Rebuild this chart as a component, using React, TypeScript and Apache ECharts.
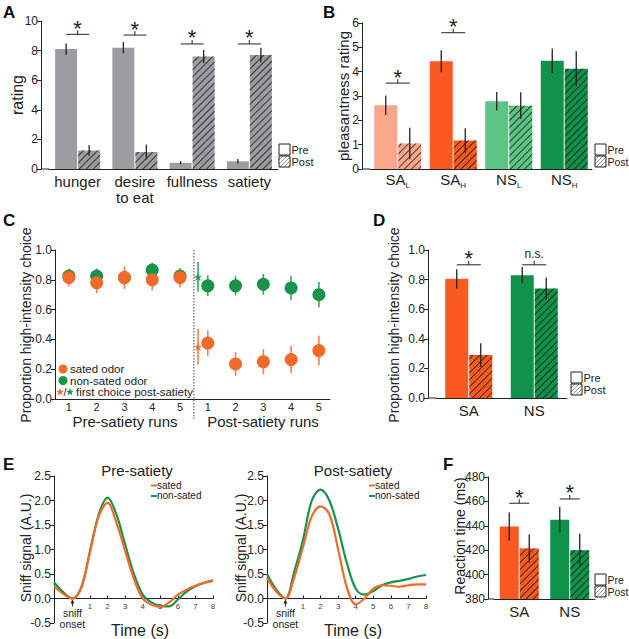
import React, { useEffect, useRef } from 'react';
import * as echarts from 'echarts';

const FONT = '"Liberation Sans", Arial, Helvetica, sans-serif';
const AXIS = '#222';
const ORANGE = '#F26A2A';
const GREEN = '#17934A';
const HATCH = 'rgba(25,25,25,0.8)';

// ---------- Panel A ----------
const aCategories = ['hunger', 'desire\nto eat', 'fullness', 'satiety'];
const aPre = [8.1, 8.2, 0.42, 0.52];
const aPreErr = [0.38, 0.38, 0.1, 0.15];
const aPost = [1.25, 1.15, 7.6, 7.7];
const aPostErr = [0.35, 0.5, 0.45, 0.5];
const aSigCats = [0, 1, 2, 3];
const aSigY = [9.1, 9.05, 8.45, 8.45];
const aSigText = ['*', '*', '*', '*'];
const aColors = ['#9C9DA0', '#9C9DA0', '#9C9DA0', '#9C9DA0'];

// ---------- Panel B ----------
const bCategories = ['SA|L', 'SA|H', 'NS|L', 'NS|H'];
const bPre = [2.62, 4.43, 2.78, 4.45];
const bPreErr = [0.4, 0.45, 0.38, 0.5];
const bPost = [1.05, 1.17, 2.6, 4.12];
const bPostErr = [0.65, 0.5, 0.55, 0.72];
const bSigCats = [0, 1];
const bSigY = [3.53, 5.6];
const bSigText = ['*', '*'];
const bColors = ['#F9A78A', '#FA5A1F', '#5DC583', '#11924A'];

// ---------- Panel C ----------
const cRunX = [1, 2, 3, 4, 5, 6, 7, 8, 9, 10];
const cRunLabels = ['1', '2', '3', '4', '5', '1', '2', '3', '4', '5'];
const cSated = [0.815, 0.78, 0.815, 0.8, 0.815, 0.375, 0.235, 0.25, 0.265, 0.325];
const cSatedErr = [0.06, 0.07, 0.075, 0.07, 0.065, 0.085, 0.08, 0.085, 0.09, 0.1];
const cNonSated = [0.825, 0.825, 0.815, 0.865, 0.825, 0.76, 0.76, 0.77, 0.745, 0.7];
const cNonSatedErr = [0.05, 0.05, 0.05, 0.05, 0.05, 0.07, 0.065, 0.07, 0.08, 0.085];
const cFirstX = 5.65;
const cFirstSated = 0.35;
const cFirstSatedErr = 0.12;
const cFirstNonSated = 0.82;
const cFirstNonSatedErr = 0.1;
const cDivider = 5.5;

// ---------- Panel D ----------
const dCategories = ['SA', 'NS'];
const dPre = [0.805, 0.83];
const dPreErr = [0.065, 0.055];
const dPost = [0.29, 0.74];
const dPostErr = [0.08, 0.075];
const dSigCats = [0, 1];
const dSigY = [0.9, 0.9];
const dSigText = ['*', 'n.s.'];
const dColors = ['#FA5A1F', '#11924A'];

// ---------- Panel E ----------
const eTime = [-1.05, -0.5, 0, 0.5, 1, 1.5, 2, 2.5, 3, 3.5, 4, 4.5, 5, 5.5, 6, 6.5, 7, 7.5, 8];
const ePreSated = [0.25, 0.09, 0, 0.22, 0.95, 1.68, 1.95, 1.55, 0.97, 0.4, 0.0, -0.13, -0.17, -0.08, 0.08, 0.18, 0.26, 0.32, 0.36];
const ePreNonSated = [0.33, 0.12, 0, 0.22, 0.97, 1.72, 2.06, 1.72, 1.1, 0.5, 0.08, -0.08, -0.15, -0.16, -0.02, 0.14, 0.25, 0.32, 0.37];
const ePostSated = [0.42, 0.13, 0, 0.43, 1.05, 1.68, 1.88, 1.72, 1.0, 0.22, -0.12, 0.0, 0.2, 0.27, 0.26, 0.24, 0.27, 0.29, 0.29];
const ePostNonSated = [0.5, 0.17, 0, 0.55, 1.2, 2.0, 2.22, 2.0, 1.42, 0.72, 0.2, 0.08, 0.15, 0.27, 0.33, 0.36, 0.4, 0.45, 0.48];
const eTicks = [1, 2, 3, 4, 5, 6, 7, 8];

// ---------- Panel F ----------
const fCategories = ['SA', 'NS'];
const fPre = [439.5, 445];
const fPreErr = [11.5, 10.5];
const fPost = [421.5, 420];
const fPostErr = [11.5, 13.5];
const fSigCats = [0, 1];
const fSigY = [458.5, 462];
const fSigText = ['*', '*'];
const fColors = ['#FA5A1F', '#11924A'];

const hatch = {
  symbol: 'rect',
  symbolSize: 1,
  dashArrayX: [1, 0],
  dashArrayY: [1, 4],
  rotation: -Math.PI / 4,
  color: HATCH,
};

function yAxisBase(idx: number, min: number, max: number, interval: number, decimals: number, offset: number) {
  return {
    type: 'value',
    gridIndex: idx,
    min,
    max,
    interval,
    offset,
    axisLine: { show: true, onZero: false, lineStyle: { color: AXIS, width: 1 } },
    axisTick: { show: true, length: 4, lineStyle: { color: AXIS } },
    axisLabel: {
      color: AXIS,
      fontSize: 12,
      fontFamily: FONT,
      margin: 3,
      formatter: (v: number) => v.toFixed(decimals),
    },
    splitLine: { show: false },
  };
}

function barPanel(
  idx: number,
  cats: string[],
  pre: number[],
  preErr: number[],
  post: number[],
  postErr: number[],
  colors: string[],
  bw: number,
  sigCats: number[],
  sigY: number[],
  sigText: string[],
  yMin: number,
  yMax: number,
  yInt: number,
  yDec: number,
  yOffset: number,
  axisLabel: any
) {
  const half = (bw + 1) / 2;
  const xAxis = {
    type: 'category',
    gridIndex: idx,
    data: cats,
    axisLine: { show: true, lineStyle: { color: AXIS, width: 1 } },
    axisTick: { show: false },
    axisLabel,
    splitLine: { show: false },
  };
  const yAxis = yAxisBase(idx, yMin, yMax, yInt, yDec, yOffset);
  const errSeries = (means: number[], errs: number[], off: number) => ({
    type: 'custom',
    xAxisIndex: idx,
    yAxisIndex: idx,
    z: 5,
    silent: true,
    data: means.map((m, i) => [i, m, errs[i]]),
    renderItem: (params: any, api: any) => {
      const c = api.value(0);
      const m = api.value(1);
      const e = api.value(2);
      const p1 = api.coord([c, m - e]);
      const p2 = api.coord([c, m + e]);
      return {
        type: 'line',
        shape: { x1: p1[0] + off, y1: p1[1], x2: p2[0] + off, y2: p2[1] },
        style: { stroke: AXIS, lineWidth: 1.3 },
      };
    },
  });
  const series: any[] = [
    {
      type: 'bar',
      xAxisIndex: idx,
      yAxisIndex: idx,
      barWidth: bw,
      barGap: (100 / bw).toFixed(1) + '%',
      silent: true,
      data: pre.map((v, i) => ({ value: v, itemStyle: { color: colors[i] } })),
    },
    {
      type: 'bar',
      xAxisIndex: idx,
      yAxisIndex: idx,
      barWidth: bw,
      barGap: (100 / bw).toFixed(1) + '%',
      silent: true,
      data: post.map((v, i) => ({ value: v, itemStyle: { color: colors[i], decal: hatch } })),
    },
    errSeries(pre, preErr, -half),
    errSeries(post, postErr, half),
    {
      type: 'custom',
      xAxisIndex: idx,
      yAxisIndex: idx,
      z: 6,
      silent: true,
      data: sigCats.map((c, i) => [c, sigY[i]]),
      renderItem: (params: any, api: any) => {
        const p = api.coord([api.value(0), api.value(1)]);
        const label = sigText[params.dataIndex];
        const star = label === '*';
        return {
          type: 'group',
          children: [
            { type: 'line', shape: { x1: p[0] - half, y1: p[1], x2: p[0] + half, y2: p[1] }, style: { stroke: AXIS, lineWidth: 1 } },
            { type: 'line', shape: { x1: p[0], y1: p[1], x2: p[0], y2: p[1] - 4 }, style: { stroke: AXIS, lineWidth: 1 } },
            {
              type: 'text',
              x: p[0],
              y: star ? p[1] - 6 : p[1] - 5,
              style: {
                text: label,
                fontSize: star ? 22 : 12,
                fontFamily: FONT,
                fill: AXIS,
                align: 'center',
                verticalAlign: star ? 'middle' : 'bottom',
                textAlign: 'center',
                textVerticalAlign: star ? 'middle' : 'bottom',
              },
            },
          ],
        };
      },
    },
  ];
  return { xAxis, yAxis, series };
}

function txt(x: number, y: number, text: string, fontSize: number, opts: any = {}) {
  const style: any = {
    text,
    fontSize,
    fontFamily: FONT,
    fontWeight: opts.bold ? 'bold' : 'normal',
    fill: opts.fill || AXIS,
    align: opts.align || 'center',
    verticalAlign: opts.va || 'middle',
    textAlign: opts.align || 'center',
    textVerticalAlign: opts.va || 'middle',
  };
  if (opts.lh) style.lineHeight = opts.lh;
  return {
    type: 'text',
    x,
    y,
    rotation: opts.rotation || 0,
    silent: true,
    style,
  };
}

function legendBox(x: number, y: number, fs: number = 11) {
  const s = 11;
  const top = y + s + 1;
  const segs = [
    [x, top + 4, x + 4, top],
    [x, top + 8, x + 8, top],
    [x + 1, top + s, x + s, top + 1],
    [x + 5, top + s, x + s, top + 5],
    [x + 9, top + s, x + s, top + 9],
  ];
  const lines = segs.map((sg) => ({
    type: 'line',
    silent: true,
    shape: { x1: sg[0], y1: sg[1], x2: sg[2], y2: sg[3] },
    style: { stroke: '#777', lineWidth: 0.8 },
  }));
  return [
    { type: 'rect', silent: true, shape: { x, y, width: s, height: s }, style: { fill: '#fff', stroke: AXIS, lineWidth: 1 } },
    ...lines,
    { type: 'rect', silent: true, shape: { x, y: top, width: s, height: s }, style: { fill: 'none', stroke: AXIS, lineWidth: 1 } },
    txt(x + s + 1.5, y + s / 2 + 0.5, 'Pre', fs, { align: 'left', lh: 11 }),
    txt(x + s + 1.5, top + s / 2 + 0.5, 'Post', fs, { align: 'left', lh: 11 }),
  ];
}

export default function App() {
  const ref = useRef<HTMLDivElement>(null);

  useEffect(() => {
    document.body.style.margin = '0';
    const chart = echarts.init(ref.current!, undefined, { renderer: 'svg' });

    const A = barPanel(0, aCategories, aPre, aPreErr, aPost, aPostErr, aColors, 22, aSigCats, aSigY, aSigText, 0, 10, 2, 0, 8, {
      color: AXIS, fontSize: 15, fontFamily: FONT, margin: 4, lineHeight: 16, interval: 0,
    });
    const B = barPanel(1, bCategories, bPre, bPreErr, bPost, bPostErr, bColors, 23, bSigCats, bSigY, bSigText, 0, 6, 1, 0, 8, {
      margin: 3,
      interval: 0,
      formatter: (v: string) => {
        const [m, s] = v.split('|');
        return `{m|${m}}{s|${s}}`;
      },
      rich: {
        m: { fontSize: 15, fontFamily: FONT, color: AXIS, lineHeight: 16, verticalAlign: 'top' },
        s: { fontSize: 8, fontFamily: FONT, color: AXIS, lineHeight: 8, padding: [9, 0, 0, 0], verticalAlign: 'top' },
      },
    });
    const D = barPanel(3, dCategories, dPre, dPreErr, dPost, dPostErr, dColors, 23, dSigCats, dSigY, dSigText, 0, 1, 0.2, 1, 8, {
      color: AXIS, fontSize: 15, fontFamily: FONT, margin: 5,
    });
    const F = barPanel(6, fCategories, fPre, fPreErr, fPost, fPostErr, fColors, 19, fSigCats, fSigY, fSigText, 380, 480, 20, 0, 6, {
      color: AXIS, fontSize: 15, fontFamily: FONT, margin: 5,
    });

    const cErr = (xs: number[], means: number[], errs: number[], color: string) => ({
      type: 'custom',
      xAxisIndex: 2,
      yAxisIndex: 2,
      silent: true,
      z: 3,
      data: means.map((m, i) => [xs[i], m, errs[i]]),
      renderItem: (params: any, api: any) => {
        const x = api.value(0);
        const m = api.value(1);
        const e = api.value(2);
        const p1 = api.coord([x, m - e]);
        const p2 = api.coord([x, m + e]);
        return { type: 'line', shape: { x1: p1[0], y1: p1[1], x2: p2[0], y2: p2[1] }, style: { stroke: color, lineWidth: 1.6, opacity: 0.85 } };
      },
    });
    const starPath = 'path://M12,0 L14.9,8.6 L24,8.6 L16.7,14 L19.4,22.8 L12,17.4 L4.6,22.8 L7.3,14 L0,8.6 L9.1,8.6 Z';

    const C_x = {
      type: 'value', gridIndex: 2, min: 0.5, max: 10.4,
      axisLine: { show: true, onZero: false, lineStyle: { color: AXIS } },
      axisTick: { show: false },
      axisLabel: {
        color: AXIS, fontSize: 11, fontFamily: FONT, margin: 2, lineHeight: 11,
        customValues: cRunX,
        formatter: (v: number) => cRunLabels[cRunX.indexOf(v)] ?? '',
      },
      splitLine: { show: false },
    };
    const C_y = yAxisBase(2, 0, 1, 0.2, 1, 0);

    // zero line of E sits 0.5 units (of 3.0 over 147px) above the grid bottom
    const eZeroOffset = -(0.5 / 3.0) * 147;
    const eX = (idx: number) => ({
      type: 'value', gridIndex: idx, min: -1.05, max: 8,
      position: 'bottom',
      offset: eZeroOffset,
      axisLine: { show: true, onZero: false, lineStyle: { color: AXIS } },
      axisTick: { show: true, inside: true, length: 3, customValues: eTicks, lineStyle: { color: AXIS } },
      axisLabel: { color: '#444', fontSize: 8, fontFamily: FONT, margin: 4, customValues: eTicks },
      splitLine: { show: false },
    });
    const eY = (idx: number) => yAxisBase(idx, -0.5, 2.5, 0.5, 1, 0);
    const eLine = (idx: number, vals: number[], color: string) => ({
      type: 'line', xAxisIndex: idx, yAxisIndex: idx, smooth: 0.35, showSymbol: false, silent: true,
      data: vals.map((v, i) => [eTime[i], v]),
      lineStyle: { color, width: 2.2 },
    });

    const option: any = {
      animation: false,
      textStyle: { fontFamily: FONT },
      grid: [
        { left: 49, top: 21, width: 229, height: 148 },
        { left: 370, top: 23, width: 222, height: 146 },
        { left: 55, top: 250, width: 275, height: 149 },
        { left: 436, top: 250, width: 131, height: 148 },
        { left: 54, top: 476, width: 159, height: 147 },
        { left: 267, top: 476, width: 159, height: 147 },
        { left: 494, top: 477, width: 101, height: 122 },
      ],
      xAxis: [A.xAxis, B.xAxis, C_x, D.xAxis, eX(4), eX(5), F.xAxis],
      yAxis: [A.yAxis, B.yAxis, C_y, D.yAxis, eY(4), eY(5), F.yAxis],
      series: [
        ...A.series,
        ...B.series,
        cErr(cRunX, cNonSated, cNonSatedErr, GREEN),
        cErr([cFirstX], [cFirstNonSated], [cFirstNonSatedErr], GREEN),
        {
          type: 'scatter', xAxisIndex: 2, yAxisIndex: 2, silent: true, symbolSize: 13, z: 4,
          itemStyle: { color: GREEN, opacity: 1 },
          data: cNonSated.map((v, i) => [cRunX[i], v]),
        },
        {
          type: 'scatter', xAxisIndex: 2, yAxisIndex: 2, silent: true, symbol: starPath, symbolSize: 9, z: 4,
          itemStyle: { color: GREEN },
          data: [[cFirstX, cFirstNonSated]],
        },
        cErr(cRunX, cSated, cSatedErr, ORANGE),
        cErr([cFirstX], [cFirstSated], [cFirstSatedErr], ORANGE),
        {
          type: 'scatter', xAxisIndex: 2, yAxisIndex: 2, silent: true, symbolSize: 13, z: 4,
          itemStyle: { color: ORANGE, opacity: 1 },
          data: cSated.map((v, i) => [cRunX[i], v]),
        },
        {
          type: 'scatter', xAxisIndex: 2, yAxisIndex: 2, silent: true, symbol: starPath, symbolSize: 9, z: 4,
          itemStyle: { color: ORANGE },
          data: [[cFirstX, cFirstSated]],
        },
        ...D.series,
        eLine(4, ePreNonSated, GREEN),
        eLine(4, ePreSated, ORANGE),
        eLine(5, ePostNonSated, GREEN),
        eLine(5, ePostSated, ORANGE),
        ...F.series,
      ],
    };
    chart.setOption(option);

    const divTop = chart.convertToPixel({ gridIndex: 2 } as any, [cDivider, 1.0]);
    const divBot = chart.convertToPixel({ gridIndex: 2 } as any, [cDivider, 0]);
    const on1 = chart.convertToPixel({ gridIndex: 4 } as any, [0, 0]);
    const on2 = chart.convertToPixel({ gridIndex: 5 } as any, [0, 0]);

    const arrow = (p: number[]) => [
      { type: 'line', silent: true, shape: { x1: p[0], y1: p[1] + 8, x2: p[0], y2: p[1] + 2 }, style: { stroke: AXIS, lineWidth: 1 } },
      { type: 'polygon', silent: true, shape: { points: [[p[0], p[1] + 1], [p[0] - 2, p[1] + 5], [p[0] + 2, p[1] + 5]] }, style: { fill: AXIS } },
      txt(p[0], p[1] + 14, 'sniff', 10.5, { lh: 10 }),
      txt(p[0], p[1] + 25, 'onset', 10.5, { lh: 10 }),
    ];
    const star = (cx: number, cy: number, r: number, color: string) => {
      const pts: number[][] = [];
      for (let k = 0; k < 10; k++) {
        const ang = -Math.PI / 2 + (k * Math.PI) / 5;
        const rr = k % 2 === 0 ? r : r * 0.42;
        pts.push([cx + rr * Math.cos(ang), cy + rr * Math.sin(ang)]);
      }
      return { type: 'polygon', silent: true, shape: { points: pts }, style: { fill: color } };
    };

    const graphic: any[] = [
      // panel letters
      txt(3, 4, 'A', 17, { bold: true, align: 'left', va: 'top', fill: '#111' }),
      txt(323, 4, 'B', 17, { bold: true, align: 'left', va: 'top', fill: '#111' }),
      txt(3, 212, 'C', 17, { bold: true, align: 'left', va: 'top', fill: '#111' }),
      txt(373, 212, 'D', 17, { bold: true, align: 'left', va: 'top', fill: '#111' }),
      txt(3, 456, 'E', 17, { bold: true, align: 'left', va: 'top', fill: '#111' }),
      txt(443, 456, 'F', 17, { bold: true, align: 'left', va: 'top', fill: '#111' }),
      // y-axis names
      txt(17, 95, 'rating', 16, { rotation: Math.PI / 2 }),
      txt(343, 96, 'pleasantness rating', 15, { rotation: Math.PI / 2 }),
      txt(26, 325, 'Proportion high-intensity choice', 14, { rotation: Math.PI / 2 }),
      txt(394, 325, 'Proportion high-intensity choice', 14, { rotation: Math.PI / 2 }),
      txt(26, 548, 'Sniff signal (A.U.)', 14, { rotation: Math.PI / 2 }),
      txt(241, 548, 'Sniff signal (A.U.)', 14, { rotation: Math.PI / 2 }),
      txt(460, 536, 'Reaction time (ms)', 14, { rotation: Math.PI / 2 }),
      // x axis fillers for offset y axes
      { type: 'line', silent: true, shape: { x1: 41, y1: 169, x2: 49, y2: 169 }, style: { stroke: AXIS, lineWidth: 1 } },
      { type: 'line', silent: true, shape: { x1: 362, y1: 169, x2: 370, y2: 169 }, style: { stroke: AXIS, lineWidth: 1 } },
      { type: 'line', silent: true, shape: { x1: 428, y1: 398, x2: 436, y2: 398 }, style: { stroke: AXIS, lineWidth: 1 } },
      { type: 'line', silent: true, shape: { x1: 488, y1: 599, x2: 494, y2: 599 }, style: { stroke: AXIS, lineWidth: 1 } },
      // legends
      ...legendBox(279, 144),
      ...legendBox(595, 144, 10.5),
      ...legendBox(571, 372),
      ...legendBox(595, 574, 10.5),
      // panel C divider and labels
      { type: 'line', silent: true, shape: { x1: divTop[0], y1: divTop[1], x2: divBot[0], y2: divBot[1] + 20 }, style: { stroke: '#444', lineWidth: 1, lineDash: [1.5, 1.5] } },
      txt(125, 421, 'Pre-satiety runs', 15, { lh: 15 }),
      txt(263, 421, 'Post-satiety runs', 15, { lh: 15 }),
      { type: 'circle', silent: true, shape: { cx: 63, cy: 369, r: 4.5 }, style: { fill: ORANGE } },
      txt(70, 369, 'sated odor', 11.5, { align: 'left', lh: 11 }),
      { type: 'circle', silent: true, shape: { cx: 63, cy: 380.5, r: 4.5 }, style: { fill: GREEN } },
      txt(70, 380.5, 'non-sated odor', 11.5, { align: 'left', lh: 11 }),
      star(60, 392, 4, ORANGE),
      txt(65, 392, '/', 11, { align: 'center', lh: 11 }),
      star(70, 392, 4, GREEN),
      txt(76, 392, 'first choice post-satiety', 11.5, { align: 'left', lh: 11 }),
      // panel E
      txt(137, 470, 'Pre-satiety', 15),
      txt(353, 470, 'Post-satiety', 15),
      { type: 'line', silent: true, shape: { x1: 151, y1: 485.5, x2: 157, y2: 485.5 }, style: { stroke: ORANGE, lineWidth: 2 } },
      txt(157, 485, 'sated', 10, { align: 'left', lh: 9 }),
      { type: 'line', silent: true, shape: { x1: 151, y1: 496, x2: 157, y2: 496 }, style: { stroke: GREEN, lineWidth: 2 } },
      txt(157, 495.5, 'non-sated', 10, { align: 'left', lh: 9 }),
      { type: 'line', silent: true, shape: { x1: 369, y1: 485.5, x2: 375, y2: 485.5 }, style: { stroke: ORANGE, lineWidth: 2 } },
      txt(375, 485, 'sated', 10, { align: 'left', lh: 9 }),
      { type: 'line', silent: true, shape: { x1: 369, y1: 496, x2: 375, y2: 496 }, style: { stroke: GREEN, lineWidth: 2 } },
      txt(375, 495.5, 'non-sated', 10, { align: 'left', lh: 9 }),
      ...arrow(on1),
      ...arrow(on2),
      txt(140, 630, 'Time (s)', 16),
      txt(353, 630, 'Time (s)', 16),
    ];
    chart.setOption({ graphic });

    return () => chart.dispose();
  }, []);

  return <div ref={ref} style={{ width: 629, height: 639 }} />;
}
